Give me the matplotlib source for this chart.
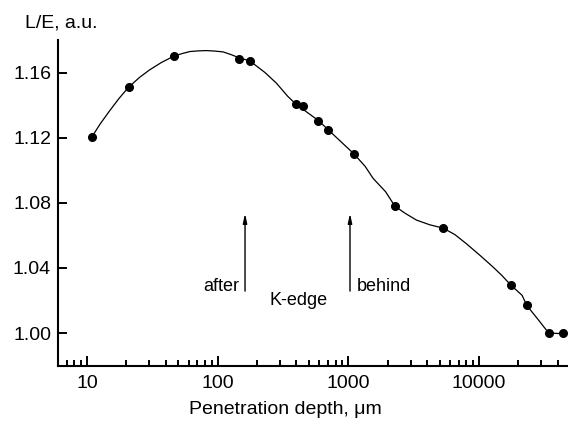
import numpy as np
import matplotlib
matplotlib.use('Agg')
import matplotlib.pyplot as plt
from matplotlib.ticker import FixedLocator, LogLocator, NullFormatter

plt.rcParams['font.family'] = ['Liberation Sans', 'DejaVu Sans']

# measured points
depth = [10.9, 20.8, 46.3, 146, 176, 396, 451, 591, 700, 1107,
         2270, 5320, 17540, 23270, 34200, 43600]
ratio = [1.1205, 1.151, 1.170, 1.1686, 1.1672, 1.1405, 1.1397, 1.1305,
         1.1247, 1.110, 1.078, 1.0645, 1.0295, 1.017, 1.000, 1.000]

# fitted curve
curve_x = [10.9, 12.7, 14.9, 17.5, 20.8, 25.3, 30.2, 37.3, 46.3, 53.1,
           61.2, 70.5, 82.0, 95, 110, 128, 147.5, 176, 229.6, 281.6,
           344, 396, 591, 802, 1107, 1345, 1549, 1930, 2270, 2708,
           3327, 4210, 5320, 6540, 8040, 10160, 12850, 14970, 17540,
           21380, 23270, 28250, 34200, 43600]
curve_y = [1.1205, 1.1288, 1.1365, 1.1439, 1.151, 1.1571, 1.1617, 1.1663,
           1.1701, 1.1716, 1.1729, 1.1733, 1.1735, 1.1732, 1.1727, 1.1709,
           1.1689, 1.1672, 1.1601, 1.1535, 1.1454, 1.1407, 1.1305, 1.1205,
           1.110, 1.1024, 1.095, 1.0868, 1.078, 1.0737, 1.0694, 1.0665,
           1.0645, 1.0605, 1.0548, 1.0478, 1.0405, 1.0354, 1.0295, 1.0232,
           1.0169, 1.0085, 1.000, 0.9997]

# K-edge arrows
arrow_x = [162, 1030]
arrow_y0 = 1.0258
arrow_y1 = 1.0735

x_ticks = [10, 100, 1000, 10000]
x_labels = ['10', '100', '1000', '10000']
y_ticks = [1.00, 1.04, 1.08, 1.12, 1.16]

fig = plt.figure(figsize=(5.68, 4.21), dpi=100)
ax = fig.add_axes([58/568, 1 - 365.7/421, 1 - 58/568, (365.7 - 40)/421])

ax.plot(curve_x, curve_y, color='black', lw=0.9)
ax.plot(depth, ratio, 'o', color='black', ms=5.5)

for xa in arrow_x:
    ax.annotate('', xy=(xa, arrow_y1), xytext=(xa, arrow_y0),
                arrowprops=dict(arrowstyle='-|>,head_width=0.12,head_length=0.55',
                                color='black', lw=1.0, shrinkA=0, shrinkB=0))

ax.text(146, 1.0256, 'after', ha='right', va='baseline', fontsize=13)
ax.text(1156, 1.0256, 'behind', ha='left', va='baseline', fontsize=13)
ax.text(418, 1.0172, 'K-edge', ha='center', va='baseline', fontsize=13)

ax.set_xscale('log')
ax.set_xlim(6, 48000)
ax.set_ylim(0.98, 1.18)

ax.xaxis.set_major_locator(FixedLocator(x_ticks))
ax.set_xticklabels(x_labels)
ax.xaxis.set_minor_locator(LogLocator(base=10, subs=np.arange(2, 10)))
ax.xaxis.set_minor_formatter(NullFormatter())
ax.set_yticks(y_ticks)
ax.set_yticklabels(['%.2f' % v for v in y_ticks])

for s in ['top', 'right']:
    ax.spines[s].set_visible(False)
for s in ['left', 'bottom']:
    ax.spines[s].set_linewidth(1.5)

ax.tick_params(axis='both', which='both', direction='in', width=1.4, labelsize=14)
ax.tick_params(axis='x', which='major', length=7, pad=7)
ax.tick_params(axis='x', which='minor', length=4.5)
ax.tick_params(axis='y', which='major', length=6.5, pad=5)

fig.text(25/568, 1 - 23/421, 'L/E, a.u.', ha='left', va='center', fontsize=14)
fig.text(285/568, 1 - 410/421, 'Penetration depth, \u03bcm', ha='center', va='center', fontsize=14)

fig.savefig('out.png', dpi=100)
